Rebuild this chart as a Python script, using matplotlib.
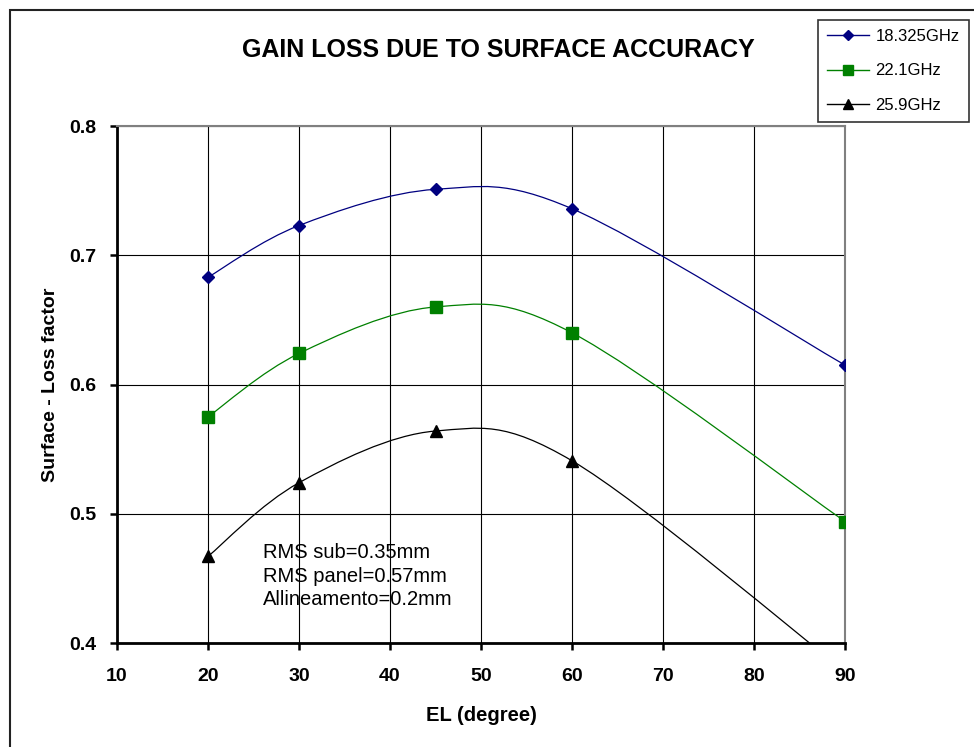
import matplotlib
matplotlib.use('Agg')
import matplotlib.pyplot as plt
import numpy as np
from matplotlib.path import Path
from matplotlib.patches import PathPatch, Rectangle
from matplotlib.lines import Line2D

plt.rcParams['font.family'] = ['Liberation Sans', 'DejaVu Sans']

# data
el = [20, 30, 45, 60, 90]
loss_18 = [0.683, 0.723, 0.751, 0.736, 0.615]
loss_22 = [0.575, 0.624, 0.660, 0.640, 0.494]
loss_26 = [0.467, 0.524, 0.564, 0.541, 0.378]
labels = ['18.325GHz', '22.1GHz', '25.9GHz']
colors = ['#000080', '#008000', '#000000']
markers = ['D', 's', '^']
msizes = [6.5, 8.5, 8]
note = 'RMS sub=0.35mm\nRMS panel=0.57mm\nAllineamento=0.2mm'


def smooth_path(x, y):
    # Excel-like smoothed line: cubic Bezier segments with Catmull-Rom tangents
    p = np.column_stack([x, y]).astype(float)
    n = len(p)
    verts = [p[0]]
    codes = [Path.MOVETO]
    for i in range(n - 1):
        p0 = p[i - 1] if i > 0 else p[i]
        p3 = p[i + 2] if i + 2 < n else p[i + 1]
        c1 = p[i] + (p[i + 1] - p0) / 6.0
        c2 = p[i + 1] - (p3 - p[i]) / 6.0
        verts += [c1, c2, p[i + 1]]
        codes += [Path.CURVE4] * 3
    return Path(verts, codes)


fig = plt.figure(figsize=(9.74, 7.47), dpi=100)
ax = fig.add_axes([117 / 974, 1 - 643 / 747, (845 - 117) / 974, (643 - 126) / 747])

series = [loss_18, loss_22, loss_26]
handles = []
for vals, c, m, ms, lab in zip(series, colors, markers, msizes, labels):
    ax.add_patch(PathPatch(smooth_path(el, vals), facecolor='none', edgecolor=c,
                           lw=0.9, zorder=2))
    ax.plot(el, vals, ls='none', marker=m, ms=ms, color=c, zorder=3)
    handles.append(Line2D([], [], color=c, lw=1.0, marker=m, ms=ms - 1, label=lab))

ax.set_xlim(10, 90)
ax.set_ylim(0.4, 0.8)
ax.set_xticks(range(10, 91, 10))
ax.set_yticks([0.4, 0.5, 0.6, 0.7, 0.8])
ax.set_yticklabels(['0.4', '0.5', '0.6', '0.7', '0.8'])
ax.set_axisbelow(True)
ax.grid(True, color='black', lw=0.8)
for s in ['left', 'bottom']:
    ax.spines[s].set_linewidth(2.0)
    ax.spines[s].set_color('black')
for s in ['right', 'top']:
    ax.spines[s].set_linewidth(1.5)
    ax.spines[s].set_color('#808080')
ax.tick_params(direction='out', length=5, width=1.8, labelsize=14)
ax.tick_params(axis='x', pad=13)
ax.tick_params(axis='y', pad=10)
for t in ax.get_xticklabels() + ax.get_yticklabels():
    t.set_fontweight('bold')

ax.set_xlabel('EL (degree)', fontsize=14.5, fontweight='bold', labelpad=15)
ax.set_ylabel('Surface - Loss factor', fontsize=14, fontweight='bold', labelpad=7)

ax.text(26.0, 0.4775, note, fontsize=14.5, va='top', ha='left', linespacing=1.32)

fig.text(0.512, 0.933, 'GAIN LOSS DUE TO SURFACE ACCURACY', fontsize=18,
         fontweight='bold', ha='center', va='center')

leg = fig.legend(handles=handles, loc='upper left', bbox_to_anchor=(818 / 974, 1 - 20 / 747),
                 fontsize=12, frameon=True, fancybox=False, edgecolor='black',
                 labelspacing=1.15, handlelength=2.5, handletextpad=0.4,
                 borderaxespad=0, borderpad=0.55)
leg.get_frame().set_linewidth(1.2)

# outer chart frame
fig.patches.append(Rectangle((10 / 974, -0.1), 1.2, 1 - 10 / 747 + 0.1,
                             transform=fig.transFigure, fill=False, lw=1.5,
                             edgecolor='#222222'))

fig.savefig('out.png', dpi=100)
